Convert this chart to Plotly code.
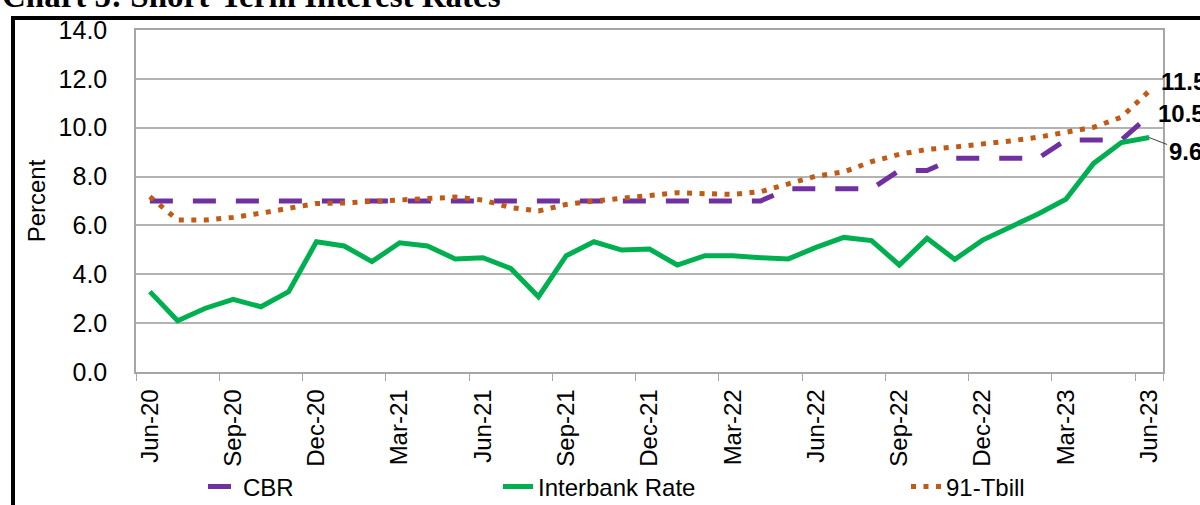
import plotly.graph_objects as go

# ---------------- data ----------------
months = ["Jun-20", "Jul-20", "Aug-20", "Sep-20", "Oct-20", "Nov-20", "Dec-20",
          "Jan-21", "Feb-21", "Mar-21", "Apr-21", "May-21", "Jun-21", "Jul-21",
          "Aug-21", "Sep-21", "Oct-21", "Nov-21", "Dec-21", "Jan-22", "Feb-22",
          "Mar-22", "Apr-22", "May-22", "Jun-22", "Jul-22", "Aug-22", "Sep-22",
          "Oct-22", "Nov-22", "Dec-22", "Jan-23", "Feb-23", "Mar-23", "Apr-23",
          "May-23", "Jun-23"]

cbr = [7.0, 7.0, 7.0, 7.0, 7.0, 7.0, 7.0, 7.0, 7.0, 7.0, 7.0, 7.0, 7.0, 7.0,
       7.0, 7.0, 7.0, 7.0, 7.0, 7.0, 7.0, 7.0, 7.0, 7.5, 7.5, 7.5, 7.5, 8.25,
       8.25, 8.75, 8.75, 8.75, 8.75, 9.5, 9.5, 9.5, 10.5]

interbank = [3.29, 2.10, 2.61, 2.97, 2.67, 3.29, 5.33, 5.16, 4.52, 5.29, 5.16,
             4.63, 4.68, 4.24, 3.08, 4.76, 5.33, 4.99, 5.03, 4.38, 4.76, 4.76,
             4.68, 4.63, 5.10, 5.51, 5.38, 4.38, 5.47, 4.61, 5.40, 5.91, 6.47,
             7.07, 8.54, 9.39, 9.6]

tbill = [7.18, 6.22, 6.22, 6.33, 6.50, 6.70, 6.90, 6.92, 6.99, 7.07, 7.11,
         7.16, 7.04, 6.73, 6.59, 6.86, 7.00, 7.11, 7.27, 7.34, 7.30, 7.27,
         7.38, 7.68, 8.02, 8.19, 8.61, 8.91, 9.11, 9.21, 9.32, 9.46, 9.61,
         9.80, 10.02, 10.43, 11.5]

tick_labels = months[::3]

# ---------------- layout helpers ----------------
W, H = 1200, 505
L, R, T, B = 136, 37, 30, 133
PW, PH = W - L - R, H - T - B


def px_x(p):
    return (p - L) / PW


def px_y(p):
    return (H - B - p) / PH


FONT = "Liberation Sans, Arial, sans-serif"
GRID = "#B3B3B3"
AXIS = "#A6A6A6"
C_CBR, C_IB, C_TB = "#7030A0", "#00B050", "#C05A14"

fig = go.Figure()
fig.add_trace(go.Scatter(x=months, y=cbr, name="CBR", mode="lines",
                         line=dict(color=C_CBR, width=5, dash="23px,20px"),
                         legend="legend"))
fig.add_trace(go.Scatter(x=months, y=interbank, name="Interbank Rate", mode="lines",
                         line=dict(color=C_IB, width=5),
                         legend="legend2"))
fig.add_trace(go.Scatter(x=months, y=tbill, name="91-Tbill", mode="lines",
                         line=dict(color=C_TB, width=5, dash="5px,7.5px"),
                         legend="legend3"))

leg_common = dict(orientation="h", yanchor="middle", y=px_y(487), xanchor="left",
                  font=dict(family=FONT, size=24, color="#000000"),
                  bgcolor="rgba(0,0,0,0)", borderwidth=0)

fig.update_layout(
    width=W, height=H,
    margin=dict(l=L, r=R, t=T, b=B, pad=0, autoexpand=False),
    paper_bgcolor="white", plot_bgcolor="white",
    font=dict(family=FONT, size=24, color="#000000"),
    showlegend=True,
    legend=dict(x=px_x(203), **leg_common),
    legend2=dict(x=px_x(498), **leg_common),
    legend3=dict(x=px_x(906), **leg_common),
    xaxis=dict(type="category", categoryorder="array", categoryarray=months,
               range=[-0.5, len(months) - 0.5],
               tickmode="array", tickvals=tick_labels, ticktext=tick_labels,
               tickson="boundaries", ticks="outside", ticklen=7, tickcolor=AXIS,
               tickwidth=1.3, tickangle=-90, ticklabelstandoff=6,
               tickfont=dict(family=FONT, size=24, color="#000000"),
               showgrid=False, showline=True, linecolor=AXIS, linewidth=1.5,
               mirror=True, zeroline=False, automargin=False),
    yaxis=dict(range=[0, 14], dtick=2, tick0=0, tickformat=".1f",
               showgrid=True, gridcolor=GRID, gridwidth=1.5,
               showline=True, linecolor=AXIS, linewidth=1.5, mirror=True,
               ticks="outside", ticklen=22, tickcolor="rgba(0,0,0,0)",
               tickfont=dict(family=FONT, size=25, color="#000000"),
               title=dict(text="Percent", standoff=6,
                          font=dict(family=FONT, size=24, color="#000000")),
               zeroline=False, automargin=False),
)

# end-of-series data labels
last = len(months) - 1
fig.add_annotation(x=months[last], y=tbill[last], xref="x", yref="y",
                   text=f"{tbill[last]:.1f}", showarrow=False,
                   xanchor="left", yanchor="middle", xshift=10, yshift=10,
                   font=dict(family=FONT, size=24, color="#000000", weight="bold"))
fig.add_annotation(x=months[last], y=cbr[last], xref="x", yref="y",
                   text=f"{cbr[last]:.1f}", showarrow=False,
                   xanchor="left", yanchor="middle", xshift=7, yshift=2,
                   font=dict(family=FONT, size=24, color="#000000", weight="bold"))
fig.add_annotation(x=months[last], y=interbank[last], xref="x", yref="y",
                   text=f"{interbank[last]:.1f}", showarrow=True, arrowhead=0,
                   arrowwidth=1, arrowcolor="#404040", ax=36, ay=14,
                   font=dict(family=FONT, size=24, color="#000000", weight="bold"))

# chart title (cropped at the top of the picture)
fig.add_annotation(x=px_x(0), y=px_y(-4), xref="paper", yref="paper",
                   text="<b>Chart 5: Short-Term Interest Rates</b>", showarrow=False,
                   xanchor="left", yanchor="middle",
                   font=dict(family="Liberation Serif, Times New Roman, serif",
                             size=33, color="#000000"))

# outer black frame (left and top edges)
fig.add_shape(type="path", xref="paper", yref="paper",
              path=f"M {px_x(13)} {px_y(520)} L {px_x(13)} {px_y(18)} L {px_x(1215)} {px_y(18)}",
              line=dict(color="#000000", width=4))

fig.write_html("out.html",
               config={"displayModeBar": False},
               post_script="document.body.style.margin='0px';"
                           "document.body.style.overflow='hidden';")
